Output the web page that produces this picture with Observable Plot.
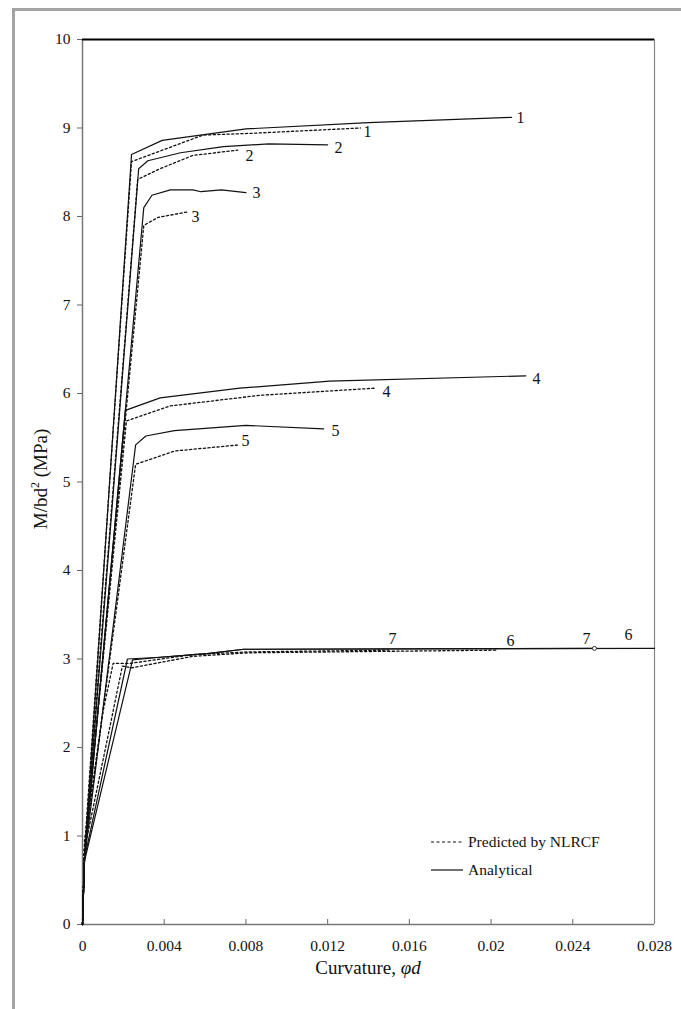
<!DOCTYPE html>
<html>
<head>
<meta charset="utf-8">
<script src="https://cdn.jsdelivr.net/npm/d3@7"></script>
<script src="https://cdn.jsdelivr.net/npm/@observablehq/plot@0.6"></script>
<style>
  html, body { margin: 0; padding: 0; background: #fff; }
  #wrap { position: relative; width: 681px; height: 1009px; overflow: hidden; font-family: "Liberation Serif", "Times New Roman", serif; color: #111; }
  #frame { position: absolute; left: 12px; top: 8px; right: -10px; bottom: -10px; border-left: 3px solid #a3a3a3; border-top: 3px solid #a3a3a3; }
  #chart { position: absolute; left: 0; top: 0; }
  #chart svg text { font-family: "Liberation Serif", "Times New Roman", serif; }
  .ytitle { position: absolute; left: 40px; top: 479px; transform: translate(-50%, -50%) rotate(-90deg); font-size: 19px; white-space: nowrap; }
  .xtitle { position: absolute; left: 368px; top: 968px; transform: translate(-50%, -50%); font-size: 19px; white-space: nowrap; }
  .legend { position: absolute; left: 431px; top: 828px; font-size: 15.5px; }
  .legend .row { display: flex; align-items: center; height: 28px; }
  .legend svg { margin-right: 5px; }
</style>
</head>
<body>
<div id="wrap">
  <div id="frame"></div>
  <div id="chart"></div>
  <div class="ytitle">M/bd<sup style="font-size:12px">2</sup> (MPa)</div>
  <div class="xtitle">Curvature, <i>φd</i></div>
  <div class="legend">
    <div class="row"><svg width="32" height="4"><line x1="0" y1="2" x2="32" y2="2" stroke="#111" stroke-width="1.2" stroke-dasharray="3,2.5"/></svg><span>Predicted by NLRCF</span></div>
    <div class="row"><svg width="32" height="4"><line x1="0" y1="2" x2="32" y2="2" stroke="#111" stroke-width="1.2"/></svg><span>Analytical</span></div>
  </div>
</div>
<script>
// Tick values and labels
const xTicks = [0, 0.004, 0.008, 0.012, 0.016, 0.02, 0.024, 0.028];
const xTickLabels = ["0", "0.004", "0.008", "0.012", "0.016", "0.02", "0.024", "0.028"];
const yTicks = [0, 1, 2, 3, 4, 5, 6, 7, 8, 9, 10];

// Analytical (solid) curves: [curvature, M/bd^2]
const analytical1 = [[0,0],[0.0001,0.75],[0.0024,8.70],[0.0039,8.86],[0.0080,8.99],[0.0140,9.06],[0.0210,9.12]];
const analytical2 = [[0,0],[0.0001,0.75],[0.00275,8.54],[0.0032,8.63],[0.0048,8.72],[0.0069,8.79],[0.0091,8.82],[0.0120,8.81]];
const analytical3 = [[0,0],[0.0001,0.75],[0.0030,8.10],[0.0034,8.24],[0.0043,8.30],[0.0054,8.30],[0.0058,8.28],[0.0068,8.30],[0.0080,8.27]];
const analytical4 = [[0,0],[0.0001,0.75],[0.0021,5.81],[0.0038,5.95],[0.0077,6.06],[0.0121,6.14],[0.0217,6.20]];
const analytical5 = [[0,0],[0.0001,0.75],[0.0026,5.42],[0.0031,5.52],[0.0045,5.58],[0.0080,5.64],[0.0118,5.60]];
const analytical6 = [[0,0],[0.0001,0.72],[0.00245,2.99],[0.0038,3.02],[0.0061,3.06],[0.0079,3.11],[0.0280,3.12]];
const analytical7 = [[0,0],[0.0001,0.75],[0.0022,3.00],[0.0038,3.02],[0.0061,3.06],[0.0079,3.11],[0.0251,3.12]];

// Predicted by NLRCF (dashed) curves
const predicted1 = [[0,0],[0.0001,0.85],[0.0024,8.62],[0.0059,8.92],[0.0083,8.94],[0.0136,9.00]];
const predicted2 = [[0,0],[0.0001,0.85],[0.0027,8.42],[0.0038,8.54],[0.0054,8.69],[0.0076,8.75]];
const predicted3 = [[0,0],[0.0001,0.85],[0.0030,7.90],[0.0037,7.99],[0.0051,8.05]];
const predicted4 = [[0,0],[0.0001,0.85],[0.00215,5.69],[0.0043,5.86],[0.0087,5.98],[0.0143,6.06]];
const predicted5 = [[0,0],[0.0001,0.85],[0.0026,5.20],[0.0045,5.35],[0.0077,5.42]];
const predicted6 = [[0,0],[0.0001,0.85],[0.0014,2.30],[0.00195,2.92],[0.0024,2.90],[0.0054,3.03],[0.0081,3.07],[0.0203,3.10]];
const predicted7 = [[0,0],[0.0001,0.95],[0.0010,2.40],[0.0015,2.95],[0.0023,2.95],[0.0054,3.05],[0.0081,3.08],[0.0150,3.10]];

// Curve number labels
const labelText = ["1","1","2","2","3","3","4","4","5","5","7","6","7","6"];
const labelX = [0.02144,0.01395,0.01253,0.00817,0.00852,0.00553,0.02222,0.01488,0.01238,0.00798,0.01518,0.02095,0.02467,0.02673];
const labelY = [9.12,8.96,8.77,8.69,8.27,8.00,6.17,6.02,5.58,5.47,3.23,3.21,3.23,3.27];
const endMarker = [[0.02506, 3.12]];

const labels = labelText.map((t, i) => ({t, x: labelX[i], y: labelY[i]}));
const toObj = a => a.map(([x, y]) => ({x, y}));
const solid = [analytical1, analytical2, analytical3, analytical4, analytical5, analytical6, analytical7];
const dashed = [predicted1, predicted2, predicted3, predicted4, predicted5, predicted6, predicted7];
const serif = "'Liberation Serif', 'Times New Roman', serif";

const marks = [
  Plot.axisY({ticks: yTicks, tickSize: 5, tickPadding: 7, label: null, stroke: "#666", color: "#111", fontFamily: serif, fontSize: 15.5}),
  Plot.axisX({ticks: xTicks, tickSize: -5, tickPadding: 20, label: null, stroke: "#666", color: "#111", fontFamily: serif, fontSize: 15.5,
              tickFormat: d => xTickLabels[xTicks.indexOf(d)]}),
  Plot.ruleX([0], {stroke: "#777", strokeWidth: 1.5}),
  Plot.ruleX([0.028], {stroke: "#888", strokeWidth: 1.2}),
  Plot.ruleY([0], {stroke: "#777", strokeWidth: 1.5}),
  Plot.ruleY([10], {stroke: "#000", strokeWidth: 2})
];
for (const s of dashed) marks.push(Plot.line(toObj(s), {x: "x", y: "y", stroke: "#111", strokeWidth: 1.3, strokeDasharray: "2.2,2.4"}));
for (const s of solid) marks.push(Plot.line(toObj(s), {x: "x", y: "y", stroke: "#111", strokeWidth: 1.2}));
marks.push(Plot.dot(toObj(endMarker), {x: "x", y: "y", r: 2, stroke: "#333", fill: "#fff", strokeWidth: 1}));
marks.push(Plot.text(labels, {x: "x", y: "y", text: "t", fontSize: 16, fill: "#111", fontFamily: serif}));

const chart = Plot.plot({
  width: 681, height: 1009,
  marginLeft: 82, marginRight: 27, marginTop: 39, marginBottom: 85,
  x: {domain: [0, 0.028]},
  y: {domain: [0, 10]},
  style: {fontFamily: serif, fontSize: "15px", background: "transparent", color: "#111"},
  marks
});
document.getElementById("chart").appendChild(chart);
</script>
</body>
</html>
